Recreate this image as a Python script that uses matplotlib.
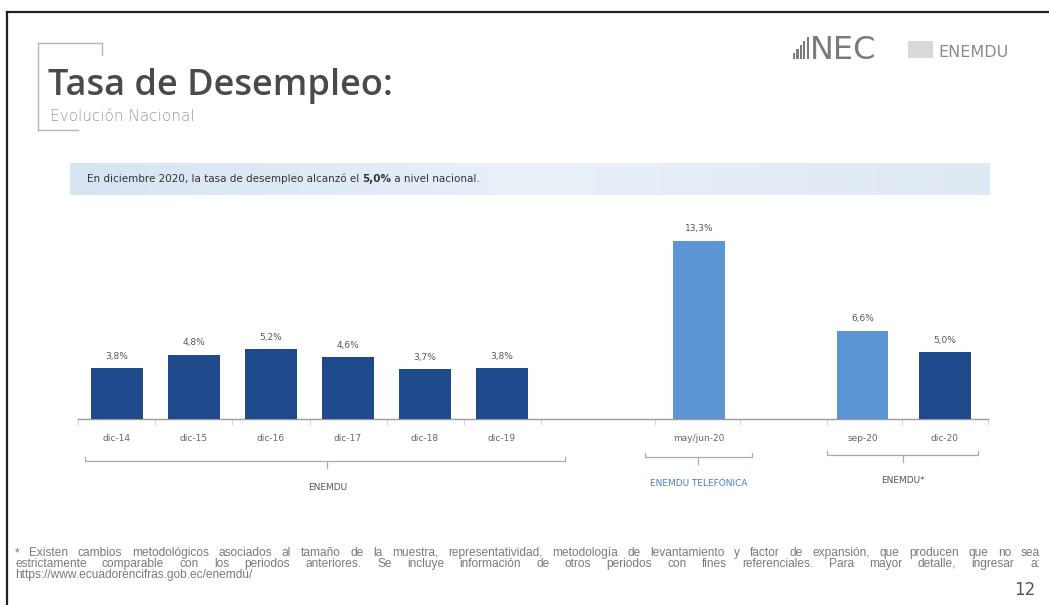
import numpy as np
import matplotlib
matplotlib.use("Agg")
import matplotlib.pyplot as plt
from matplotlib.lines import Line2D
from matplotlib.patches import Rectangle
from matplotlib.textpath import TextToPath
from matplotlib.font_manager import FontProperties

# --- Datos ---
periodos = ["dic-14", "dic-15", "dic-16", "dic-17", "dic-18", "dic-19",
            "may/jun-20", "sep-20", "dic-20"]
tasa = [3.8, 4.8, 5.2, 4.6, 3.7, 3.8, 13.3, 6.6, 5.0]
encuesta = ["ENEMDU"] * 6 + ["ENEMDU TELEFÓNICA", "ENEMDU*", "ENEMDU*"]
etiquetas = [f"{v:.1f}%".replace(".", ",") for v in tasa]

# posiciones en el eje (grupos separados)
pos = [0, 1, 2, 3, 4, 5, 7.56, 9.68, 10.75]
limites = [-0.5, 0.5, 1.5, 2.5, 3.5, 4.5, 5.5, 6.99, 8.09, 9.22, 10.19, 11.31]

azul_osc = "#1f4b8c"
azul_cla = "#5b95d3"
colores = [azul_osc] * 6 + [azul_cla, azul_cla, azul_osc]

W, H = 1049, 605


def fx(x):
    return x / W


def fy(y):
    return 1 - y / H


fig = plt.figure(figsize=(W / 100, H / 100), dpi=100)
fig.patch.set_facecolor("white")

# marco negro (arriba e izquierda)
fig.add_artist(Line2D([fx(7), fx(W)], [fy(12), fy(12)], color="#222222", lw=1.6))
fig.add_artist(Line2D([fx(7), fx(7)], [fy(12), fy(H)], color="#222222", lw=1.6))

# decoracion del titulo
gris_dec = "#b5b5b5"
fig.add_artist(Line2D([fx(38), fx(38)], [fy(43), fy(130)], color=gris_dec, lw=1))
fig.add_artist(Line2D([fx(38), fx(102)], [fy(43), fy(43)], color=gris_dec, lw=1))
fig.add_artist(Line2D([fx(102), fx(102)], [fy(43), fy(55)], color=gris_dec, lw=1))
fig.add_artist(Line2D([fx(38), fx(78)], [fy(130), fy(130)], color=gris_dec, lw=1))

fig.text(fx(48), fy(95), "Tasa de Desempleo:", fontsize=26, color="#4a4a4a",
         family="Open Sans", fontweight="semibold", va="baseline")
fig.text(fx(50), fy(121), "Evolución Nacional", fontsize=11, color="#9a9a9a",
         family="DejaVu Sans", fontweight="light", va="baseline")

# logo
for i, h in enumerate([6, 10, 14, 18, 22]):
    fig.add_artist(Rectangle((fx(793 + i * 3.4), fy(59)), fx(2.2), h / H,
                             color="#7a7a7a", lw=0))
fig.text(fx(810), fy(59), "NEC", fontsize=23, color="#7a7a7a",
         family="DejaVu Sans", va="baseline")
fig.add_artist(Rectangle((fx(908), fy(58)), fx(25), 17 / H, color="#d9d9d9", lw=0))
fig.text(fx(938), fy(57), "ENEMDU", fontsize=11.5, color="#8a8a8a",
         family="DejaVu Sans", va="baseline")

# recuadro del mensaje
ax_b = fig.add_axes([fx(70), fy(195), fx(920), 32 / H])
grad = np.linspace(0, 1, 256).reshape(1, -1)
ax_b.imshow(grad, aspect="auto", cmap=matplotlib.colors.LinearSegmentedColormap.from_list(
    "b", ["#d6e4f2", "#e9f0f8", "#dfe9f4"]), extent=[0, 1, 0, 1])
ax_b.set_axis_off()
t1 = ax_b.text(0.018, 0.5, "En diciembre 2020, la tasa de desempleo alcanzó el ",
               fontsize=7.5, color="#333333", va="center", transform=ax_b.transAxes)
t2 = ax_b.annotate("5,0%", xy=(1, 0), xycoords=t1, va="bottom", fontsize=7.5,
                   color="#333333", fontweight="bold")
ax_b.annotate(" a nivel nacional.", xy=(1, 0), xycoords=t2, va="bottom",
              fontsize=7.5, color="#333333")

# grafico de barras
ax = fig.add_axes([fx(78), fy(419), fx(910), 201 / H])
ax.bar(pos, tasa, width=0.67, color=colores, zorder=3)
for x, v, lab in zip(pos, tasa, etiquetas):
    ax.text(x, v + 0.55, lab, ha="center", va="bottom", fontsize=6.5, color="#555555")
ax.set_xlim(-0.506, 11.31)
ax.set_ylim(0, 15)
for s in ["top", "right", "left"]:
    ax.spines[s].set_visible(False)
ax.spines["bottom"].set_color("#9a9a9a")
ax.spines["bottom"].set_linewidth(1)
ax.set_yticks([])
ax.set_xticks(pos)
ax.set_xticklabels(periodos, fontsize=6.5, color="#666666")
ax.tick_params(axis="x", which="major", length=0, pad=11)
ax.set_xticks(limites, minor=True)
ax.tick_params(axis="x", which="minor", length=4, color="#cccccc")

# llaves de grupos
trans = ax.get_xaxis_transform()


def llave(x0, x1, xm, y, texto, color):
    ya = (419 - y) / 201
    ax.add_line(Line2D([x0, x0, x1, x1], [ya + 0.02, ya, ya, ya + 0.02],
                       transform=trans, color="#aaaaaa", lw=0.9, clip_on=False))
    ax.add_line(Line2D([xm, xm], [ya, ya - 0.035], transform=trans,
                       color="#aaaaaa", lw=0.9, clip_on=False))
    ax.text(xm, (419 - y - 26) / 201, texto, transform=trans, ha="center",
            va="center", fontsize=6.5, color=color)


llave(-0.42, 5.82, 2.73, 461, "ENEMDU", "#555555")
llave(6.86, 8.25, 7.55, 457, "ENEMDU TELEFÓNICA", "#4a7fc1")
llave(9.22, 11.18, 10.2, 455, "ENEMDU*", "#555555")

# nota al pie, justificada
nota = ["* Existen cambios metodológicos asociados al tamaño de la muestra, representatividad, "
        "metodología de levantamiento y factor de expansión, que producen que no sea",
        "estrictamente comparable con los periodos anteriores. Se incluye información de otros "
        "periodos con fines referenciales. Para mayor detalle, ingresar a:",
        "https://www.ecuadorencifras.gob.ec/enemdu/"]
ttp = TextToPath()
x_ini, x_fin = 15, 1040
familia = ["Liberation Sans Narrow", "Liberation Sans"]


def ancho(s, prop):
    w, _, _ = ttp.get_text_width_height_descent(s, prop, ismath=False)
    return w * 100 / 72


p7 = FontProperties(family=familia, size=7)
tam = min(8.6, 7 * (x_fin - x_ini - 20) / ancho(nota[0], p7))
prop = FontProperties(family=familia, size=tam)

for k, linea in enumerate(nota):
    y = 556 + k * 11
    palabras = linea.split(" ")
    if k < 2:
        total = sum(ancho(p, prop) for p in palabras)
        hueco = (x_fin - x_ini - total) / (len(palabras) - 1)
        x = x_ini
        for p in palabras:
            fig.text(fx(x), fy(y), p, fontproperties=prop, color="#7a7a7a", va="baseline")
            x += ancho(p, prop) + hueco
    else:
        fig.text(fx(x_ini), fy(y), linea, fontproperties=prop, color="#7a7a7a", va="baseline")

fig.text(fx(1035), fy(590), "12", fontsize=12, color="#555555", ha="right", va="center")

fig.savefig("out.png", dpi=100)
